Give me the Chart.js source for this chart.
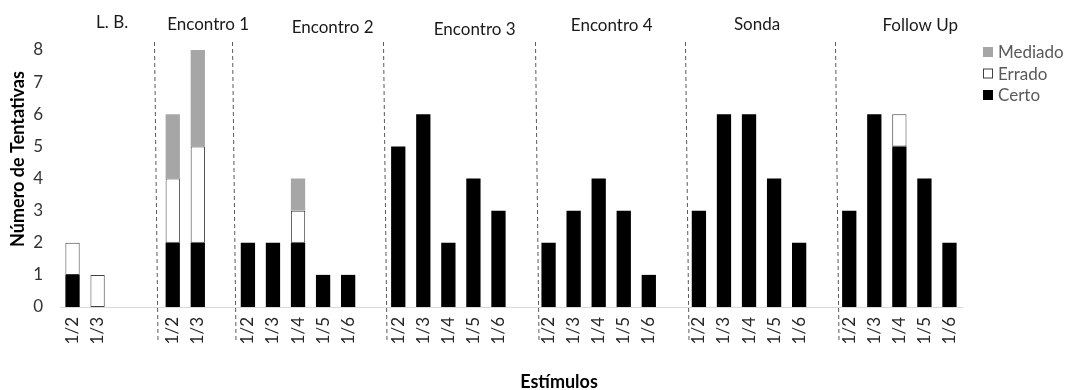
<!DOCTYPE html>
<html><head><meta charset="utf-8">
<script src="https://cdn.jsdelivr.net/npm/chart.js@4"></script>
<style>html,body{margin:0;padding:0;background:#fff}#wrap{width:1068px;height:390px}</style>
</head><body><div id="wrap"><canvas id="c" width="1068" height="390"></canvas></div>
<script>
// ---- data ----
const groups = ['L. B.', 'Encontro 1', 'Encontro 2', 'Encontro 3', 'Encontro 4', 'Sonda', 'Follow Up'];
const stimuli = [
  ['1/2','1/3'],
  ['1/2','1/3'],
  ['1/2','1/3','1/4','1/5','1/6'],
  ['1/2','1/3','1/4','1/5','1/6'],
  ['1/2','1/3','1/4','1/5','1/6'],
  ['1/2','1/3','1/4','1/5','1/6'],
  ['1/2','1/3','1/4','1/5','1/6']
];
const certo   = [[1,0],[2,2],[2,2,2,1,1],[5,6,2,4,3],[2,3,4,3,1],[3,6,6,4,2],[3,6,5,4,2]];
const errado  = [[1,1],[2,3],[0,0,1,0,0],[0,0,0,0,0],[0,0,0,0,0],[0,0,0,0,0],[0,0,1,0,0]];
const mediado = [[0,0],[2,3],[0,0,1,0,0],[0,0,0,0,0],[0,0,0,0,0],[0,0,0,0,0],[0,0,0,0,0]];
const emptySlotsAfter = [2,1,1,1,1,1];
const yTicks = [0,1,2,3,4,5,6,7,8];
const seriesNames = ['Certo','Errado','Mediado'];
const xTitle = 'Estímulos';
const yTitle = 'Número de Tentativas';

// ---- build flat arrays ----
const labels = [], fc = [], fe = [], fm = [];
groups.forEach((g, gi) => {
  stimuli[gi].forEach((s, si) => {
    labels.push(s);
    fc.push(certo[gi][si] || null);
    fe.push(errado[gi][si] || null);
    fm.push(mediado[gi][si] || null);
  });
  const gaps = emptySlotsAfter[gi] || 0;
  for (let k = 0; k < gaps; k++) { labels.push(''); fc.push(null); fe.push(null); fm.push(null); }
});

// decoration layout (fractional category indices)
const titleAt = [1.58, 5.41, 10.38, 16.05, 21.52, 27.32, 33.83];
const titleY  = [23, 25, 28, 30, 26, 25, 26];
const separatorAt = [3.25, 6.35, 12.4, 18.46, 24.45, 30.44];

const FONT = 'Lato, "Open Sans", sans-serif';
Chart.defaults.font.family = FONT;

const overlay = {
  id: 'overlay',
  afterDraw(chart) {
    const {ctx, scales: {x}} = chart;
    const p0 = x.getPixelForValue(0);
    const slot = x.getPixelForValue(1) - p0;
    ctx.save();
    // dashed separators
    ctx.strokeStyle = '#595959'; ctx.lineWidth = 1; ctx.setLineDash([4, 3]);
    separatorAt.forEach(v => {
      const px = Math.round(p0 + v * slot) + 0.5;
      ctx.beginPath(); ctx.moveTo(px, 42); ctx.lineTo(px + 3.5, 340); ctx.stroke();
    });
    ctx.setLineDash([]);
    // group titles
    ctx.fillStyle = '#1a1a1a'; ctx.font = '17px ' + FONT;
    ctx.textAlign = 'center'; ctx.textBaseline = 'middle';
    groups.forEach((g, i) => ctx.fillText(g, p0 + titleAt[i] * slot, titleY[i]));
    // x title
    ctx.font = 'bold 18px ' + FONT; ctx.fillStyle = '#000';
    ctx.fillText(xTitle, 559, 382);
    // y title
    ctx.save();
    ctx.translate(18, 159); ctx.rotate(-Math.PI / 2);
    ctx.fillText(yTitle, 0, 0);
    ctx.restore();
    // legend (reverse order)
    const ds = chart.data.datasets.slice().reverse();
    ctx.font = '17px ' + FONT; ctx.textAlign = 'left';
    ds.forEach((d, i) => {
      const cy = 52 + i * 21.5;
      ctx.fillStyle = d.backgroundColor;
      ctx.fillRect(983, cy - 5, 10, 10);
      if (d.borderWidth) { ctx.strokeStyle = d.borderColor; ctx.lineWidth = 1; ctx.strokeRect(983.5, cy - 4.5, 9, 9); }
      ctx.fillStyle = '#595959';
      ctx.fillText(d.label, 998, cy + 1);
    });
    ctx.restore();
  }
};

new Chart(document.getElementById('c'), {
  type: 'bar',
  data: {
    labels: labels,
    datasets: [
      {label: seriesNames[0], data: fc, backgroundColor: '#000000', borderWidth: 0},
      {label: seriesNames[1], data: fe, backgroundColor: '#ffffff', borderColor: '#404040', borderWidth: 1, borderSkipped: false},
      {label: seriesNames[2], data: fm, backgroundColor: '#a6a6a6', borderWidth: 0}
    ]
  },
  options: {
    responsive: false,
    animation: false,
    layout: {padding: {left: 0, top: 50, right: 106, bottom: 0}},
    datasets: {bar: {barPercentage: 0.57, categoryPercentage: 1}},
    plugins: {legend: {display: false}, tooltip: {enabled: false}},
    scales: {
      x: {
        stacked: true,
        grid: {display: false, drawTicks: false},
        border: {display: true, color: '#d9d9d9', width: 1},
        ticks: {autoSkip: false, maxRotation: 90, minRotation: 90, padding: 10, color: '#262626', font: {size: 17}},
        afterFit(s) { s.height = 83; }
      },
      y: {
        stacked: true, min: 0, max: 8,
        afterBuildTicks(s) { s.ticks = yTicks.map(v => ({value: v})); },
        grid: {display: false, drawTicks: false},
        border: {display: false},
        ticks: {padding: 17, color: '#333333', font: {size: 17}},
        afterFit(s) { s.width = 60; }
      }
    }
  },
  plugins: [overlay]
});
</script></body></html>
